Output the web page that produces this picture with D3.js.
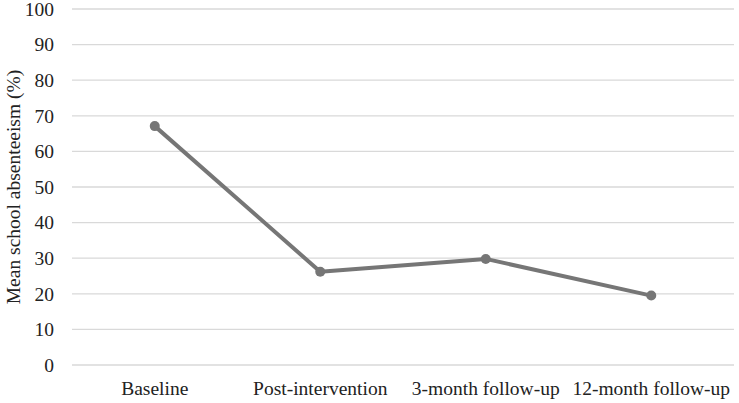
<!DOCTYPE html>
<html><head><meta charset="utf-8">
<script src="https://cdn.jsdelivr.net/npm/d3@7"></script>
<style>body{margin:0;background:#fff}svg{display:block}</style>
</head><body>
<script>
const categories = ["Baseline", "Post-intervention", "3-month follow-up", "12-month follow-up"];
const values = [67.1, 26.2, 29.8, 19.5];
const yTicks = [0,10,20,30,40,50,60,70,80,90,100];
const yLabel = "Mean school absenteeism (%)";

const W = 739, H = 403;
const m = {left: 72, right: 5, top: 9, bottom: 38};
const fs = 19.5;
const svg = d3.select("body").append("svg").attr("width", W).attr("height", H);
const x = d3.scaleBand().domain(categories).range([m.left, W - m.right]);
const y = d3.scaleLinear().domain([0, 100]).range([H - m.bottom, m.top]);
const font = "Liberation Serif, Times New Roman, serif";

const g = svg.append("g");
g.selectAll("line.grid").data(yTicks).join("line")
  .attr("x1", m.left).attr("x2", W - m.right)
  .attr("y1", d => y(d)).attr("y2", d => y(d))
  .attr("stroke", "#d9d9d9").attr("stroke-width", 1.3);

const yAxis = d3.axisLeft(y).tickValues(yTicks).tickSize(0).tickPadding(18);
const ya = svg.append("g").attr("transform", `translate(${m.left},0)`).call(yAxis);
ya.select(".domain").remove();
ya.attr("font-family", font).attr("font-size", fs);
ya.selectAll("text").attr("fill", "#222");

const xAxis = d3.axisBottom(x).tickSize(0).tickPadding(16);
const xa = svg.append("g").attr("transform", `translate(0,${H - m.bottom})`).call(xAxis);
xa.select(".domain").remove();
xa.attr("font-family", font).attr("font-size", fs);
xa.selectAll("text").attr("fill", "#222");

svg.append("text").attr("transform", `translate(20,${(m.top + H - m.bottom)/2}) rotate(-90)`)
  .attr("text-anchor", "middle").attr("font-family", font).attr("font-size", fs).attr("fill", "#222")
  .text(yLabel);

const cx = d => x(d) + x.bandwidth()/2;
const line = d3.line().x((d,i) => cx(categories[i])).y(d => y(d));
svg.append("path").datum(values).attr("d", line).attr("fill", "none")
  .attr("stroke", "#767676").attr("stroke-width", 4).attr("stroke-linejoin", "round");
svg.selectAll("circle").data(values).join("circle")
  .attr("cx", (d,i) => cx(categories[i])).attr("cy", d => y(d)).attr("r", 5)
  .attr("fill", "#767676");
</script>
</body></html>
